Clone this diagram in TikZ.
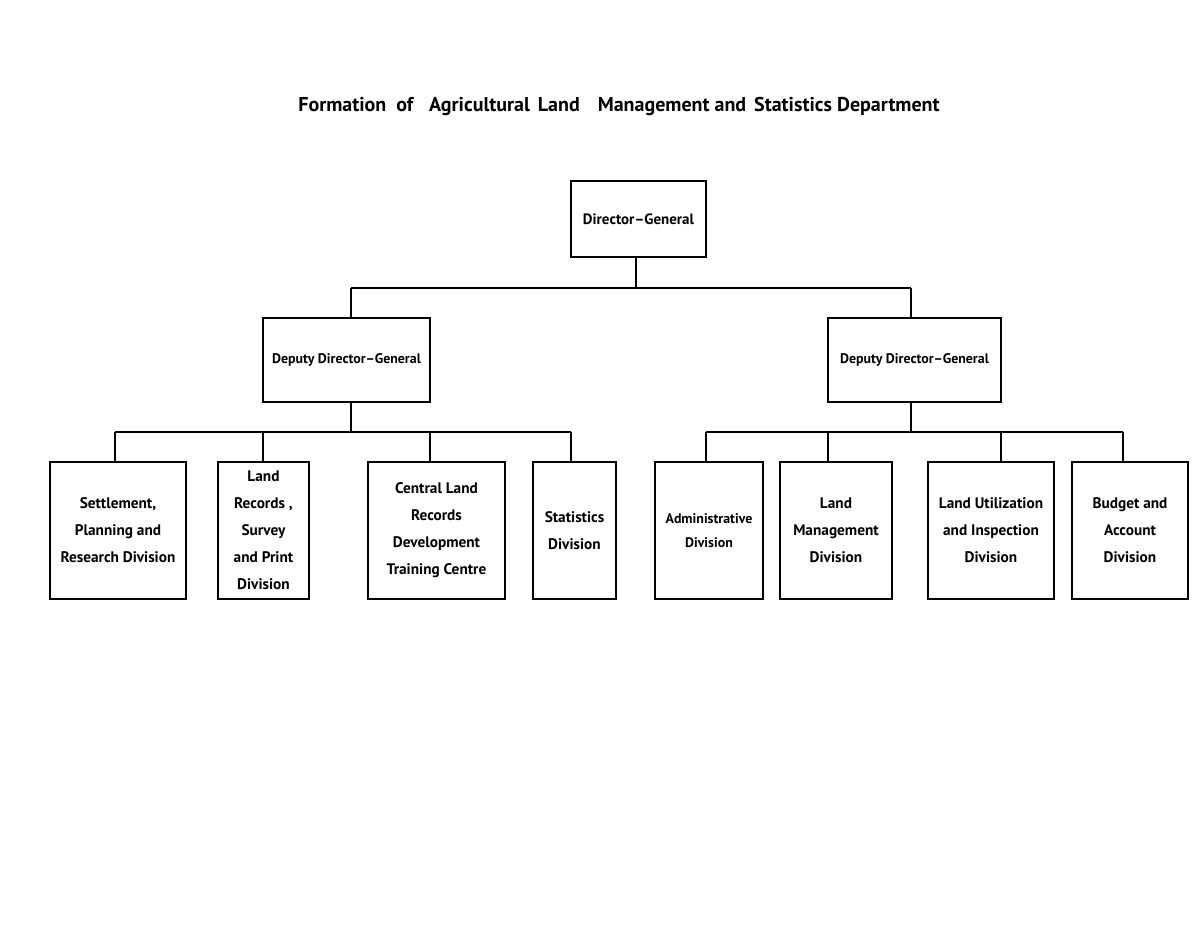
\documentclass[tikz,border=0pt]{standalone}
\usepackage{fontspec}
\setmainfont{PT Sans}
\begin{document}
\begin{tikzpicture}[x=1pt,y=-1pt,
  box/.style={draw, line width=1.3pt, inner sep=0pt, align=center,
    font=\fontsize{15.3}{27}\selectfont\bfseries},
  smallbox/.style={box, font=\fontsize{13.9}{24}\selectfont\bfseries},
  conn/.style={line width=1.3pt}]
\useasboundingbox (0,0) rectangle (1200,927);
\node (title) at (619,106) {\fontsize{20}{23}\selectfont\bfseries Formation\hspace{0.5em}of\hspace{0.8em}Agricultural\hspace{0.4em}Land\hspace{0.9em}Management and\hspace{0.4em}Statistics Department};
\node[box, minimum width=135, minimum height=76, font=\fontsize{15}{27}\selectfont\bfseries] (dg) at (638.5,219) {Director--General};
\node[smallbox, minimum width=167, minimum height=84] (ddgL) at (346.5,360) {Deputy Director--General};
\node[smallbox, minimum width=173, minimum height=84] (ddgR) at (914.5,360) {Deputy Director--General};
\node[box, minimum width=136, minimum height=137] (b1) at (118,530.5) {Settlement,\\Planning and\\Research Division};
\node[box, minimum width=91, minimum height=137] (b2) at (263.5,530.5) {Land\\Records ,\\Survey\\and Print\\Division};
\node[box, minimum width=137, minimum height=137] (b3) at (436.5,530.5) {Central Land\\Records\\Development\\Training Centre};
\node[box, minimum width=83, minimum height=137] (b4) at (574.5,530.5) {Statistics\\Division};
\node[smallbox, minimum width=108, minimum height=137] (b5) at (709,530.5) {Administrative\\Division};
\node[box, minimum width=112, minimum height=137] (b6) at (836,530.5) {Land\\Management\\Division};
\node[box, minimum width=126, minimum height=137] (b7) at (991,530.5) {Land Utilization\\and Inspection\\Division};
\node[box, minimum width=116, minimum height=137] (b8) at (1130,530.5) {Budget and\\Account\\Division};
% top bus
\coordinate (t0) at (636,288);
\coordinate (bL) at (351,288);
\coordinate (bR) at (911,288);
\draw[conn] (dg.south -| t0) -- (t0);
\draw[conn] (bL) -- (bR);
\draw[conn] (bL) -- (bL |- ddgL.north);
\draw[conn] (bR) -- (bR |- ddgR.north);
% left bus
\coordinate (cL) at (351,432);
\coordinate (l1) at (115,432);
\coordinate (l2) at (263,432);
\coordinate (l3) at (430,432);
\coordinate (l4) at (571,432);
\draw[conn] (ddgL.south -| cL) -- (cL);
\draw[conn] (l1) -- (l4);
\draw[conn] (l1) -- (l1 |- b1.north);
\draw[conn] (l2) -- (l2 |- b2.north);
\draw[conn] (l3) -- (l3 |- b3.north);
\draw[conn] (l4) -- (l4 |- b4.north);
% right bus
\coordinate (cR) at (911,432);
\coordinate (r1) at (706,432);
\coordinate (r2) at (828,432);
\coordinate (r3) at (1001,432);
\coordinate (r4) at (1123,432);
\draw[conn] (ddgR.south -| cR) -- (cR);
\draw[conn] (r1) -- (r4);
\draw[conn] (r1) -- (r1 |- b5.north);
\draw[conn] (r2) -- (r2 |- b6.north);
\draw[conn] (r3) -- (r3 |- b7.north);
\draw[conn] (r4) -- (r4 |- b8.north);
\end{tikzpicture}
\end{document}
